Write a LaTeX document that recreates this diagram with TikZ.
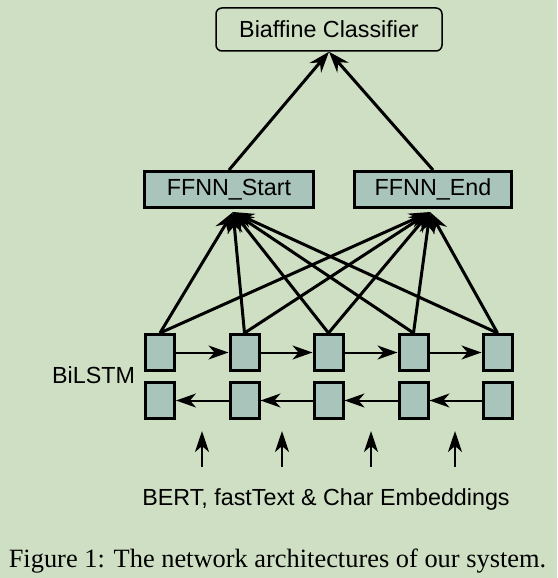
\documentclass[tikz,border=0pt]{standalone}
\usepackage{fontspec}
\setmainfont{Liberation Serif}
\setsansfont{Liberation Sans}
\usetikzlibrary{arrows.meta}
\definecolor{bgcol}{RGB}{207,223,196}
\definecolor{cellcol}{RGB}{169,196,187}
\begin{document}
\begin{tikzpicture}[x=1pt,y=-1pt,
    lbl/.style={font=\sffamily\fontsize{23.3}{26}\selectfont},
    ffnn/.style={draw,line width=3pt,fill=cellcol,minimum height=36pt,inner sep=0pt,lbl},
    cell/.style={draw,line width=3pt,fill=cellcol,minimum width=29pt,minimum height=36pt,inner sep=0pt},
    conn/.style={line width=3pt,-{Stealth[length=21pt,width=15pt,inset=7pt]}},
    harr/.style={line width=2pt,-{Stealth[length=20pt,width=14pt,inset=6pt]}},
    earr/.style={line width=2.5pt,-{Stealth[length=21pt,width=14pt,inset=6pt]}}]
    \fill[bgcol] (0,0) rectangle (557,578);

    \node[draw,line width=1.5pt,rounded corners=6pt,minimum width=226pt,minimum height=43pt,lbl] (bc) at (329,29.5) {Biaffine Classifier};

    \node[ffnn,minimum width=169pt] (fs) at (229,189.5) {FFNN\_Start};
    \node[ffnn,minimum width=157pt] (fe) at (433,189.5) {FFNN\_End};
    \coordinate (fsIn) at (233,212);
    \coordinate (feIn) at (430,212);

    \node[cell] (t1) at (160,352.5) {};
    \node[cell] (t2) at (244.5,352.5) {};
    \node[cell] (t3) at (328.5,352.5) {};
    \node[cell] (t4) at (413.5,352.5) {};
    \node[cell] (t5) at (497.5,352.5) {};

    \node[cell] (b1) at (160,400.5) {};
    \node[cell] (b2) at (244.5,400.5) {};
    \node[cell] (b3) at (328.5,400.5) {};
    \node[cell] (b4) at (413.5,400.5) {};
    \node[cell] (b5) at (497.5,400.5) {};

    \node[lbl,anchor=base west,inner sep=0pt] (bilstm) at (52,383) {BiLSTM};
    \node[lbl,anchor=base,inner sep=0pt] (emb) at (326,505) {BERT, fastText \& Char Embeddings};
    \node[font=\fontsize{26.4}{30}\selectfont,anchor=base,inner sep=0pt] (cap) at (277.5,567) {Figure 1: The network architectures of our system.};

    \path [conn] (fs.north) edge (bc.south);
    \path [conn] (fe.north) edge (bc.south);

    \path [conn] (t1.north) edge (fsIn);
    \path [conn] (t2.north) edge (fsIn);
    \path [conn] (t3.north) edge (fsIn);
    \path [conn] (t4.north) edge (fsIn);
    \path [conn] (t5.north) edge (fsIn);

    \path [conn] (t1.north) edge (feIn);
    \path [conn] (t2.north) edge (feIn);
    \path [conn] (t3.north) edge (feIn);
    \path [conn] (t4.north) edge (feIn);
    \path [conn] (t5.north) edge (feIn);

    \path [harr] (t1) edge (t2);
    \path [harr] (t2) edge (t3);
    \path [harr] (t3) edge (t4);
    \path [harr] (t4) edge (t5);

    \path [harr] (b2) edge (b1);
    \path [harr] (b3) edge (b2);
    \path [harr] (b4) edge (b3);
    \path [harr] (b5) edge (b4);

    \coordinate (e1) at (202,467);
    \coordinate (e2) at (282,467);
    \coordinate (e3) at (371,467);
    \coordinate (e4) at (455,467);
    \coordinate (e1t) at (202,431);
    \coordinate (e2t) at (282,431);
    \coordinate (e3t) at (371,431);
    \coordinate (e4t) at (455,431);

    \path [earr] (e1) edge (e1t);
    \path [earr] (e2) edge (e2t);
    \path [earr] (e3) edge (e3t);
    \path [earr] (e4) edge (e4t);
\end{tikzpicture}
\end{document}
